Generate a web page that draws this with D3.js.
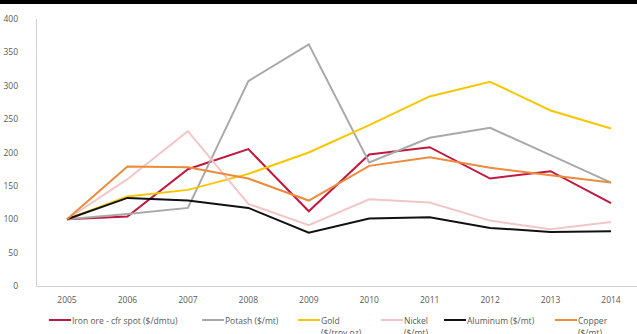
<!DOCTYPE html>
<html>
<head>
<meta charset="utf-8">
<script src="https://cdn.jsdelivr.net/npm/d3@7"></script>
<style>
body { margin: 0; background: #fff; }
svg text { font-family: "Open Sans", "Liberation Sans", sans-serif; fill: #595959; }
</style>
</head>
<body>
<div id="chart"></div>
<script>
// data (index, 2005 = 100)
var years = ["2005","2006","2007","2008","2009","2010","2011","2012","2013","2014"];
var yTicks = [0,50,100,150,200,250,300,350,400];

var ironOre  = [100, 104, 175, 205, 112, 197, 208, 161, 172, 124];
var potash   = [100, 108, 117, 307, 362, 185, 222, 237, 196, 155];
var gold     = [100, 134, 144, 168, 200, 241, 284, 306, 263, 236];
var nickel   = [100, 160, 232, 123,  91, 130, 125,  98,  85,  96];
var aluminum = [100, 132, 128, 117,  80, 101, 103,  87,  81,  82];
var copper   = [100, 179, 178, 161, 128, 180, 193, 177, 166, 155];

var seriesNames = [["Iron ore - cfr spot ($/dmtu)"], ["Potash ($/mt)"], ["Gold", "($/troy oz)"],
                   ["Nickel", "($/mt)"], ["Aluminum ($/mt)"], ["Copper", "($/mt)"]];
var seriesValues = [ironOre, potash, gold, nickel, aluminum, copper];
var seriesColors = ["#c0183f", "#a9a9a9", "#f7c600", "#f3c6c6", "#111111", "#ec8b3c"];
// legend swatch start x for each item
var legendX = [49, 202, 298, 381, 444, 555];

var W = 637, H = 334;

var svg = d3.select("#chart").append("svg")
    .attr("width", W)
    .attr("height", H);

// black strip along the top
svg.append("rect")
    .attr("x", 0).attr("y", 0)
    .attr("width", W).attr("height", 4)
    .attr("fill", "#000");

var x = d3.scalePoint()
    .domain(years)
    .range([67, 611]);

var y = d3.scaleLinear()
    .domain([0, 400])
    .range([286, 19]);

// axis lines
svg.append("line")
    .attr("x1", 36.5).attr("x2", 36.5)
    .attr("y1", y(400)).attr("y2", y(0))
    .attr("stroke", "#d0d0d0").attr("stroke-width", 1);

svg.append("line")
    .attr("x1", 36.5).attr("x2", W)
    .attr("y1", y(0) + 0.5).attr("y2", y(0) + 0.5)
    .attr("stroke", "#d0d0d0").attr("stroke-width", 1);

// y tick labels
svg.selectAll(".ytick")
    .data(yTicks)
    .enter().append("text")
    .attr("class", "ytick")
    .attr("x", 18)
    .attr("y", d => y(d) + 3)
    .attr("text-anchor", "end")
    .attr("font-size", "8.5px")
    .text(d => d);

// x tick labels
svg.selectAll(".xtick")
    .data(years)
    .enter().append("text")
    .attr("class", "xtick")
    .attr("x", d => x(d))
    .attr("y", 303)
    .attr("text-anchor", "middle")
    .attr("font-size", "8.5px")
    .text(d => d);

// lines
var line = d3.line()
    .x((d, i) => x(years[i]))
    .y(d => y(d));

svg.selectAll(".series")
    .data(seriesValues)
    .enter().append("path")
    .attr("class", "series")
    .attr("d", d => line(d))
    .attr("fill", "none")
    .attr("stroke", (d, i) => seriesColors[i])
    .attr("stroke-width", 2)
    .attr("stroke-linejoin", "miter");

// legend
var legend = svg.selectAll(".legend")
    .data(seriesNames)
    .enter().append("g")
    .attr("class", "legend")
    .attr("transform", (d, i) => "translate(" + legendX[i] + ",320)");

legend.append("line")
    .attr("x1", 0).attr("x2", 22)
    .attr("y1", 0).attr("y2", 0)
    .attr("stroke", (d, i) => seriesColors[i])
    .attr("stroke-width", 2);

legend.append("text")
    .attr("x", 23)
    .attr("y", 3.5)
    .attr("font-size", "8.5px")
    .selectAll("tspan")
    .data(d => d)
    .enter().append("tspan")
    .attr("x", 23)
    .attr("dy", (d, i) => i === 0 ? 0 : 12)
    .text(d => d);
</script>
</body>
</html>
